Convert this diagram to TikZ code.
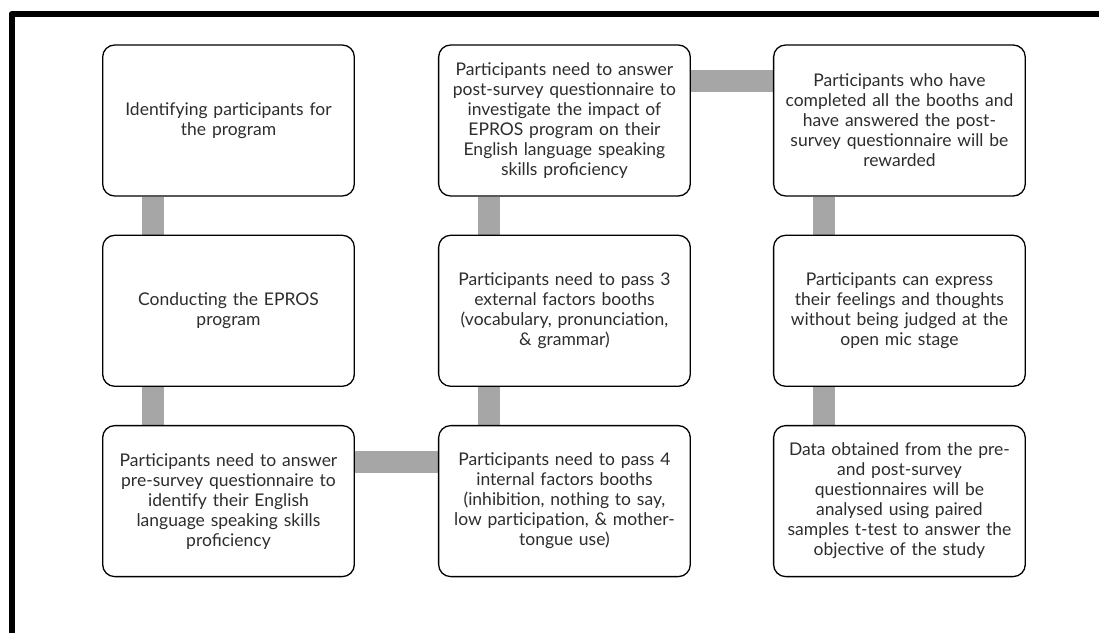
\documentclass[tikz,border=0pt]{standalone}
\usepackage{fontspec}
\setmainfont{Lato}
\usepackage{tikz}
\usetikzlibrary{positioning,backgrounds}
\definecolor{LinkGray}{RGB}{166,166,166}
\definecolor{TextGray}{RGB}{45,45,45}
\tikzset{
  stage/.style={draw=black,fill=white,rounded corners=12pt,line width=1.3pt,
    minimum width=251pt,minimum height=151pt,text width=245pt,align=center,
    text=TextGray,font=\fontsize{17.5}{20}\selectfont},
  link/.style={draw=LinkGray,line width=22pt},
}

\begin{document}
\begin{tikzpicture}[x=1pt,y=1pt]
\useasboundingbox (0,0) rectangle (1099,633);
% frame
\draw[line width=6pt,line join=round] (11.5,0) -- (11.5,619) -- (1099,619);
% first column
\node[stage] (ident) at (228.5,512.5) {Identifying participants for\\ the program};
\node[stage,below=38pt of ident] (conduct) {Conducting the EPROS\\ program};
\node[stage,below=38pt of conduct] (presurvey) {Participants need to answer\\ pre-survey questionnaire to\\ identify their English\\ language speaking skills\\ proficiency};
% second column
\node[stage,right=83pt of presurvey] (internal) {Participants need to pass 4\\ internal factors booths\\ (inhibition, nothing to say,\\ low participation, \& mother-\\ tongue use)};
\node[stage,above=38pt of internal] (external) {Participants need to pass 3\\ external factors booths\\ (vocabulary, pronunciation,\\ \& grammar)};
\node[stage,above=38pt of external] (postsurvey) {Participants need to answer\\ post-survey questionnaire to\\ investigate the impact of\\ EPROS program on their\\ English language speaking\\ skills proficiency};
% third column
\node[stage,right=82pt of postsurvey] (reward) {Participants who have\\ completed all the booths and\\ have answered the post-\\ survey questionnaire will be\\ rewarded};
\node[stage,below=38pt of reward] (openmic) {Participants can express\\ their feelings and thoughts\\ without being judged at the\\ open mic stage};
\node[stage,below=38pt of openmic] (analysis) {Data obtained from the pre-\\ and post-survey\\ questionnaires will be\\ analysed using paired\\ samples t-test to answer the\\ objective of the study};
\begin{scope}[on background layer]
\foreach \a/\b in {ident/conduct,conduct/presurvey,external/internal,postsurvey/external,reward/openmic,openmic/analysis}
  \draw[link] ([xshift=51pt]\a.south west) -- ([xshift=51pt]\b.north west);
\foreach \a/\b in {presurvey/internal,postsurvey/reward}
  \draw[link] ([yshift=-37pt]\a.north east) -- ([yshift=-37pt]\b.north west);
\end{scope}
\end{tikzpicture}
\end{document}
